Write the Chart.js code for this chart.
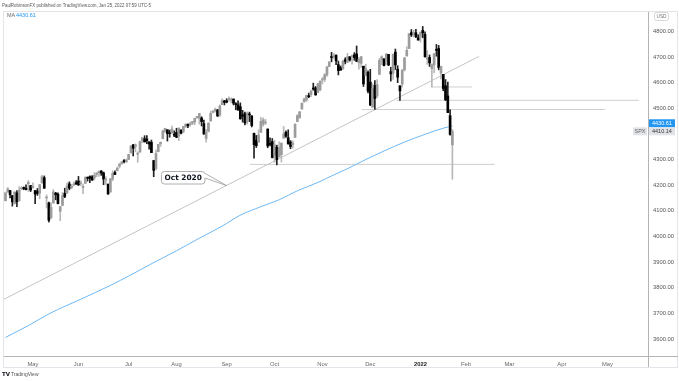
<!DOCTYPE html>
<html><head><meta charset="utf-8">
<script src="https://cdn.jsdelivr.net/npm/chart.js@4"></script>
<style>html,body{margin:0;padding:0;background:#fff;overflow:hidden}#wrap{position:relative;width:679px;height:381px}</style>
</head><body><div id="wrap"><canvas id="c" width="679" height="381"></canvas></div>
<script>
// Daily SPX candles, Apr 15 2021 .. Jan 24 2022 (index 0 = Apr 15 2021)
const opens=[4139,4174,4179,4159,4128,4170,4139,4185,4188,4185,4206,4198,
4191,4179,4177,4169,4210,4229,4150,4131,4074,4130,4169,4165,4098,4121,4168,4170,4205,4191,4201,4210,
4216,4206,4191,4207,4229,4233,4232,4229,4242,4248,4255,4248,4220,4204,4173,4224,4249,4256,4274,4284,4293,4291,
4300,4326,4357,4351,4321,4329,4373,4381,4380,4369,4367,4296,4265,4331,4361,4381,4409,4416,4402,4403,4396,
4406,4392,4415,4408,4429,4437,4436,4442,4446,4464,4461,4462,4440,4382,4410,4450,4484,4490,4493,4474,4514,4529,
4529,4534,4532,4536,4518,4513,4506,4474,4479,4447,4477,4470,4402,4375,4368,4406,4438,4443,4419,4362,4370,
4317,4348,4310,4319,4383,4406,4385,4368,4358,4386,4448,4464,4497,4525,4532,4547,4553,4578,4580,4562,4572,
4610,4613,4630,4663,4699,4701,4707,4670,4659,4655,4689,4679,4701,4700,4708,4712,4678,4675,4664,4628,4640,
4602,4504,4589,4548,4632,4690,4691,4688,4710,4643,4637,4719,4652,4587,4594,4650,4704,4733,4795,4788,4795,4775,
4778,4804,4788,4693,4698,4655,4669,4728,4733,4637,4632,4588,4548,4471,4357];
const highs=[4173,4191,4180,4160,4175,4179,4194,4194,4193,4201,4218,4199,
4209,4179,4187,4202,4238,4236,4162,4134,4131,4183,4172,4170,4117,4172,4188,4209,4213,4203,4213,4218,
4234,4217,4204,4233,4232,4236,4237,4249,4249,4255,4257,4251,4233,4204,4226,4256,4256,4271,4286,4292,4300,4302,
4320,4355,4359,4361,4330,4372,4386,4393,4393,4369,4376,4297,4337,4359,4369,4415,4422,4416,4415,4430,4412,
4422,4423,4416,4429,4440,4439,4446,4449,4461,4468,4480,4467,4454,4418,4444,4489,4492,4501,4496,4513,4538,4531,
4537,4545,4541,4536,4522,4529,4521,4492,4485,4486,4485,4471,4403,4394,4416,4465,4463,4457,4419,4385,4382,
4375,4356,4369,4365,4429,4412,4416,4374,4373,4439,4475,4488,4520,4540,4551,4559,4572,4598,4585,4597,4608,
4620,4635,4664,4683,4718,4714,4708,4684,4665,4688,4697,4714,4701,4708,4717,4743,4699,4702,4664,4672,4646,
4652,4596,4608,4612,4694,4705,4695,4713,4710,4660,4712,4731,4666,4588,4651,4697,4740,4791,4807,4805,4808,4787,
4797,4819,4798,4725,4708,4673,4714,4749,4745,4665,4632,4612,4602,4494,4417];
const lows=[4139,4171,4150,4118,4126,4116,4138,4182,4182,4181,4176,4175,
4188,4128,4160,4147,4207,4188,4111,4056,4069,4130,4143,4127,4061,4119,4151,4168,4182,4186,4197,4203,
4198,4198,4167,4206,4216,4210,4218,4220,4233,4234,4238,4202,4203,4164,4173,4217,4241,4256,4267,4281,4287,4288,
4300,4326,4314,4330,4289,4329,4365,4368,4362,4340,4327,4233,4259,4330,4351,4381,4406,4372,4387,4403,4389,
4385,4374,4400,4404,4424,4424,4430,4436,4436,4460,4438,4431,4398,4368,4407,4450,4482,4485,4468,4468,4514,4513,
4521,4527,4521,4513,4494,4493,4457,4446,4435,4438,4448,4427,4305,4347,4367,4406,4430,4436,4346,4353,4306,
4289,4279,4310,4290,4383,4386,4360,4342,4344,4386,4448,4460,4496,4524,4527,4541,4545,4570,4551,4562,4568,
4595,4604,4624,4662,4681,4694,4670,4630,4648,4651,4673,4679,4684,4672,4687,4682,4652,4659,4585,4626,4560,
4510,4504,4495,4541,4632,4670,4665,4671,4666,4606,4612,4651,4600,4531,4583,4645,4703,4733,4780,4778,4775,4766,
4758,4775,4699,4671,4663,4582,4638,4703,4650,4614,4568,4530,4483,4395,4223];
const closes=[4170,4185,4163,4135,4173,4135,4180,4188,4187,4183,4211,4181,
4193,4165,4168,4202,4233,4188,4152,4063,4113,4174,4163,4128,4116,4159,4156,4197,4188,4196,4201,4204,
4202,4208,4193,4230,4227,4227,4220,4239,4247,4255,4247,4224,4222,4166,4225,4246,4242,4266,4281,4291,4292,4298,
4320,4352,4344,4358,4321,4370,4385,4369,4374,4360,4327,4258,4323,4359,4367,4412,4422,4401,4401,4419,4395,
4387,4423,4403,4429,4437,4432,4437,4448,4461,4468,4480,4448,4400,4406,4442,4480,4486,4496,4470,4509,4529,4523,
4524,4537,4535,4520,4514,4493,4459,4469,4443,4481,4474,4433,4358,4354,4396,4449,4455,4443,4353,4359,4308,
4357,4300,4346,4364,4400,4391,4361,4351,4364,4438,4471,4486,4520,4536,4550,4545,4566,4575,4552,4596,4605,
4614,4631,4661,4680,4698,4702,4685,4647,4649,4683,4683,4701,4689,4705,4698,4683,4691,4701,4595,4655,4567,
4513,4577,4538,4592,4687,4701,4667,4712,4669,4634,4710,4669,4621,4568,4649,4697,4726,4791,4786,4793,4779,4766,
4797,4794,4701,4696,4677,4670,4713,4726,4659,4663,4577,4533,4483,4398,4410.14];

// 200-day moving average (bar index -> value)
const maIdx=[0,10,19.5,33,45.8,55,63.3,75,85.2,95,102.8,112,120.3,128,136.6,144,150.2,158,166.4,175,183.9,192.7,196];
const maVal=[3606,3652,3700,3755,3808,3850,3890,3944,3994,4040,4082,4116,4144,4178,4209,4240,4265,4300,4335,4368,4398,4424,4430.61];

// Trend line (Oct 2020) and horizontal levels
const trendIdx=[-1.1,207.6];
const trendVal=[3753,4702];
const levelVal=[4583,4531,4495,4281];
const levelStart=[187,171.6,156.3,107.2];
const levelEnd=[204.5,277.8,262.9,214.6];

// Axis ticks
const monthIdx=[12,32,54,75,97,118,139,160,182,202,221,244,264];
const monthLabels=['May','Jun','Jul','Aug','Sep','Oct','Nov','Dec','2022','Feb','Mar','Apr','May'];
const yTicks=[3600,3700,3800,3900,4000,4100,4200,4300,4500,4600,4700,4800];

const UP_BODY='#9c9c9c', UP_WICK='#b8b8b8', DN_BODY='#000000', DN_WICK='#222222';
const isUp=closes.map((c,i)=>c>=opens[i]);
const wickData=highs.map((h,i)=>({x:i,y:[lows[i],h]}));
const bodyData=opens.map((o,i)=>({x:i,y:[o,closes[i]]}));

const datasets=[];
datasets.push({type:'line',data:trendIdx.map((x,i)=>({x,y:trendVal[i]})),borderColor:'#c4c4c4',borderWidth:1,pointRadius:0,order:5});
levelVal.forEach((v,k)=>{
  datasets.push({type:'line',data:[{x:levelStart[k],y:v},{x:levelEnd[k],y:v}],borderColor:'#cfcfcf',borderWidth:1,pointRadius:0,order:5});
});
datasets.push({type:'line',data:maIdx.map((x,i)=>({x,y:maVal[i]})),borderColor:'#6cb8f5',borderWidth:1,pointRadius:0,cubicInterpolationMode:'monotone',order:4});
datasets.push({type:'bar',data:wickData,backgroundColor:isUp.map(u=>u?UP_WICK:DN_WICK),barThickness:1,grouped:false,borderWidth:0,order:2});
datasets.push({type:'bar',data:bodyData,backgroundColor:isUp.map(u=>u?UP_BODY:DN_BODY),barThickness:2,grouped:false,borderWidth:0,minBarLength:1,order:1});

function rrect(ctx,x,y,w,h,r){ctx.beginPath();ctx.moveTo(x+r,y);ctx.lineTo(x+w-r,y);ctx.quadraticCurveTo(x+w,y,x+w,y+r);ctx.lineTo(x+w,y+h-r);ctx.quadraticCurveTo(x+w,y+h,x+w-r,y+h);ctx.lineTo(x+r,y+h);ctx.quadraticCurveTo(x,y+h,x,y+h-r);ctx.lineTo(x,y+r);ctx.quadraticCurveTo(x,y,x+r,y);ctx.closePath();}

const deco={
  id:'deco',
  afterDraw(chart){
    const {ctx,chartArea:a,scales:{x,y}}=chart;
    ctx.save();
    // panel frame
    ctx.strokeStyle='#e3e5ea';ctx.lineWidth=1;
    ctx.strokeRect(a.left+0.5,a.top+0.5,677-a.left,367-a.top);
    ctx.strokeStyle='#b4b4b4';
    ctx.beginPath();ctx.moveTo(a.right,a.bottom+0.5);ctx.lineTo(678,a.bottom+0.5);ctx.stroke();
    ctx.beginPath();ctx.moveTo(a.right+0.5,a.bottom);ctx.lineTo(a.right+0.5,367);ctx.stroke();
    // header
    ctx.fillStyle='#555';ctx.font='5.3px "Liberation Sans", Arial, sans-serif';ctx.textBaseline='middle';ctx.textAlign='left';
    ctx.fillText('PaulRobinsonFX published on TradingView.com, Jan 25, 2022 07:59 UTC-5',2,5.5,149);
    // MA legend
    const maLast=maVal[maVal.length-1], cLast=closes[closes.length-1];
    ctx.font='5.5px "Liberation Sans", Arial, sans-serif';
    ctx.fillStyle='#666';ctx.fillText('MA',7,15.5);
    ctx.fillStyle='#2196f3';ctx.fillText(maLast.toFixed(2),16,15.5);
    // USD box
    ctx.strokeStyle='#d6d6d6';rrect(ctx,654.5,12.5,14,8,2);ctx.stroke();
    ctx.fillStyle='#777';ctx.font='4.8px "Liberation Sans", Arial, sans-serif';ctx.textAlign='center';ctx.fillText('USD',661.5,16.6);
    // price labels
    const cY=y.getPixelForValue(cLast);
    const mY=Math.min(y.getPixelForValue(maLast),cY-8);
    ctx.fillStyle='#2196f3';ctx.fillRect(649,mY-4,26,8);
    ctx.fillStyle='#e1e3e8';ctx.fillRect(649,cY-4,26,8);
    ctx.fillRect(633,cY-4,14,8);
    ctx.font='5.5px "Liberation Sans", Arial, sans-serif';ctx.textAlign='left';
    ctx.fillStyle='#fff';ctx.fillText(maLast.toFixed(2),652,mY+0.3);
    ctx.fillStyle='#333';ctx.fillText(cLast.toFixed(2),652,cY+0.3);
    ctx.fillStyle='#666';ctx.textAlign='center';ctx.fillText('SPX',640,cY+0.3);
    // Oct 2020 callout, anchored on the trend line
    const ai=96.9;
    const tv=trendVal[0]+(ai-trendIdx[0])*(trendVal[1]-trendVal[0])/(trendIdx[1]-trendIdx[0]);
    const ax=x.getPixelForValue(ai), ay=y.getPixelForValue(tv);
    const bx=ax-65, by=ay-14, bw=43.5, bh=12.5;
    ctx.strokeStyle='#9a9a9a';ctx.lineWidth=0.8;ctx.fillStyle='#fff';
    rrect(ctx,bx,by,bw,bh,3);ctx.fill();ctx.stroke();
    ctx.beginPath();ctx.moveTo(bx+bw-0.5,by+1.8);ctx.lineTo(ax,ay);ctx.lineTo(bx+bw-0.5,by+6.5);ctx.closePath();ctx.fill();
    ctx.beginPath();ctx.moveTo(bx+bw,by+1.8);ctx.lineTo(ax,ay);ctx.lineTo(bx+bw,by+6.5);ctx.stroke();
    ctx.fillStyle='#fff';ctx.fillRect(bx+bw-1,by+2.3,1.6,3.8);
    ctx.fillStyle='#131722';ctx.font='bold 7.4px "DejaVu Sans", sans-serif';ctx.textAlign='center';ctx.textBaseline='middle';
    ctx.fillText('Oct 2020',bx+bw/2,by+bh/2+0.3);
    // footer
    ctx.textAlign='left';
    ctx.fillStyle='#131722';ctx.font='bold 5.5px "DejaVu Sans", sans-serif';ctx.fillText('TV',2,375);
    ctx.fillStyle='#555';ctx.font='5px "Liberation Sans", Arial, sans-serif';ctx.fillText('TradingView',11,375);
    ctx.restore();
  }
};

new Chart(document.getElementById('c'),{
  type:'bar',
  data:{datasets},
  options:{
    responsive:false,animation:false,devicePixelRatio:1,
    layout:{padding:{left:3,top:11,right:0,bottom:0}},
    plugins:{legend:{display:false},tooltip:{enabled:false},title:{display:false}},
    scales:{
      x:{type:'linear',min:-1.1,max:281.8,offset:false,
        grid:{display:false,drawTicks:false},border:{display:true,color:'#b4b4b4'},
        afterBuildTicks(s){s.ticks=monthIdx.map(v=>({value:v}));},
        afterFit(s){s.height=25;},
        ticks:{autoSkip:false,maxRotation:0,padding:4.5,
          callback:(v)=>{const k=monthIdx.indexOf(v);return k>=0?monthLabels[k]:'';},
          font:(c)=>({family:'"Liberation Sans", Arial, sans-serif',size:5.8,weight:(c.tick&&c.tick.label==='2022')?'bold':'normal'}),
          color:(c)=>(c.tick&&c.tick.label==='2022')?'#222':'#666'}},
      y:{type:'linear',position:'right',min:3533.5,max:4879.4,
        grid:{display:false,drawTicks:false},border:{display:true,color:'#b4b4b4'},
        afterBuildTicks(s){s.ticks=yTicks.map(v=>({value:v}));},
        afterFit(s){s.width=31;},
        ticks:{padding:5,callback:(v)=>Number(v).toFixed(2),
          font:{family:'"Liberation Sans", Arial, sans-serif',size:5.8},color:'#555'}}
    }
  },
  plugins:[deco]
});
</script></body></html>
